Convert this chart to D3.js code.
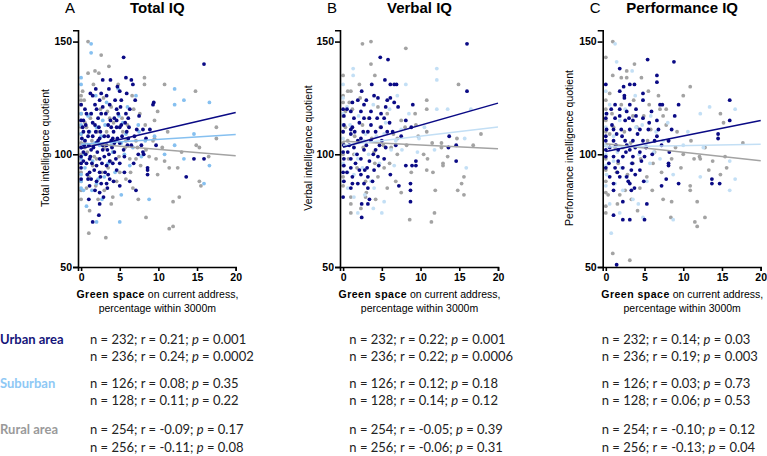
<!DOCTYPE html>
<html><head><meta charset="utf-8">
<script src="https://cdn.jsdelivr.net/npm/d3@7"></script>
<style>body{margin:0;background:#fff}svg{display:block}</style>
</head><body>
<svg id="c" width="767" height="456"></svg>
<script>
// ---------- DATA ----------
const panelLetters = ["A", "B", "C"];
const panelTitles = ["Total IQ", "Verbal IQ", "Performance IQ"];
const yTitles = ["Total intelligence quotient", "Verbal intelligence quotient", "Performance intelligence quotient"];
const xTicks = [0, 5, 10, 15, 20];
const yTicks = [50, 100, 150];
const groupNames = ["Urban area", "Suburban", "Rural area"];

// points [green space %, IQ]
const totalUrban = [[5.5,143],[15.9,140],[5.8,134],[6.5,133],[6.7,131],[2.8,133],[3.8,133],[4.7,130],[3.6,129],[1.2,127],[1.5,126],[2.6,127],[5.0,128],[5.9,127],[7.0,124],[9.4,123],[9.3,122],[5.2,124],[0,122],[1.8,122],[2.8,121],[3.7,122],[2,120],[4.6,120],[6.3,120],[0.7,118],[1.3,118],[2.6,118],[4.3,116],[6.1,116],[0.3,115],[1.5,114],[3.5,113],[4.6,112],[5,112],[8,111],[8.9,111],[5.9,110],[0.3,110],[0.9,108],[2.4,107],[4.1,107],[6.1,107],[0.5,106],[2,105],[3.3,104],[5,105],[0.3,101],[1.3,102],[2.8,102],[4.3,101],[1.1,98],[2.4,98],[3.7,97],[0.7,96],[2,95],[3.3,95],[5,96],[8,101],[8.1,100],[8.6,94],[8.6,93],[14.6,98],[15.9,98],[13.6,90],[0,94],[1.1,92],[2.4,92],[3.5,91],[0,89],[0.9,89],[1.3,89],[2,88],[3.3,87],[3.4,85],[5,86],[7.1,84],[2.4,83],[2.9,81],[1,80],[2.4,78],[2.3,73],[1.5,70],[8.6,91],[0.2,112],[0.4,104],[0.6,100],[1,110],[1.5,108],[1.8,113],[2.2,116],[2.5,110],[2.8,104],[3,99],[3.2,118],[3.5,108],[3.8,115],[4,103],[4.2,110],[4.5,98],[4.8,118],[5.2,113],[5.5,102],[5.8,118],[6.2,112],[6.5,104],[7.2,111],[7.5,117],[1.2,99],[1.7,93],[2.1,101],[2.6,87],[3.1,92],[3.6,100],[4.1,96],[0.8,91],[0.3,97],[1.6,103],[2.4,124],[3.3,126],[4.4,124],[5.1,121],[0.5,120],[1.9,129],[2.2,106],[3.9,106],[4.7,107],[0.1,107],[6.8,96],[5.6,99],[7.8,104],
  [0,115],[0,103],[0,99],[0,96],[0.6,113],[1,104],[1.4,96],[1.9,110],[2.3,112],[2.7,96],[3,108],[3.4,102],[3.9,112],[4.3,105],[4.6,115],[5.3,108],[5.7,114],[6,104],[6.9,108],[7.4,100],[8.4,107],[9.7,104],[1.1,86],[1.8,84],[2.5,90],[3.7,89],[4.2,88],[4.6,93],[5.6,92],[6.3,88]];
const totalSuburban = [[1.3,149],[1.3,145],[0,134],[0,131],[4.8,129],[7.1,126],[12.1,129],[13.3,124],[12.1,122],[16.6,123],[0,118],[2,112],[7.5,110],[8.3,106],[7.4,113],[14.6,109],[12.1,104],[13.3,98],[16.6,95],[15.9,87],[6.3,95],[5.2,82],[8.8,80],[0.7,77],[2,70],[5,70],[2,87],[0,85],[0.3,84],[3.5,96],[2.4,104],[1.1,110],[4.1,101],[5.2,105],[0.5,94],[5.8,109],[2.8,115],[2.2,89],[5.4,114],[0,98],[1.3,118],[0.5,106],
  [0,113],[0,109],[0,103],[0,91],[0,88],[0.4,100],[0.9,117],[1.5,97],[1.8,105],[2.6,108],[3,90],[3.1,113],[3.9,104],[4.4,92],[4.9,117],[5.6,100],[6,121],[6.7,103],[7.8,99],[1.4,84],[2.7,80],[3.3,123],[1.9,126],[9.5,108],[10.8,100]];
const totalRural = [[0.9,150],[2.6,144],[3.6,139],[1.8,137],[2.3,136],[0.9,136],[8.2,134],[8.2,131],[10.8,131],[14.8,128],[0,126],[0,124],[9.9,119],[17.5,112],[17.5,107],[9.5,107],[8.4,102],[14.9,104],[15.3,103],[10.8,97],[9.7,98],[11.4,94],[12.5,94],[9.9,91],[15.3,88],[15.5,86],[12.7,81],[11.9,79],[8.4,72],[7.4,80],[11.9,68],[11.4,67],[1,65],[3.2,63],[1.1,75],[0,80],[3.9,78],[5.8,89],[4.6,88],[0,115],[0.7,112],[3.3,110],[4.8,131],[4.1,101],[2,98],[6.3,98],[7.1,106],[5.8,106],[7.6,118],[1.5,95],[3.5,94],[0.7,85],[2.2,80],[3.9,121],[0.5,103],[5,92],[3.7,116],[5.4,110],[6.7,85],[7.1,98],[9.3,106],[0,122],[0,109],
  [0,118],[0,112],[0,105],[0,100],[0,96],[0,92],[0,88],[0,84],[0.2,128],[0.5,114],[0.8,101],[1.2,116],[1.4,106],[1.7,99],[2.1,110],[2.5,120],[2.7,92],[3,103],[3.4,119],[3.8,97],[4.2,114],[4.5,106],[4.9,99],[5.3,116],[5.7,103],[6,113],[6.4,92],[6.8,120],[7.3,103],[7.7,95],[8.3,113],[8.8,99],[1,90],[1.9,86],[3,84],[4.1,81],[0.4,124],[1.6,131],[2.9,125],[6.6,126],[9.5,115],[10.5,103],[11.2,110],[13,101],[16.5,99]];

const verbalUrban = [[16,149],[4.8,143],[5.8,142],[5.4,133],[3.7,131],[6.1,131],[6.6,131],[6.9,131],[16,128],[2.4,128],[1.2,123],[1.9,124],[2.7,122],[4.5,125],[5.7,124],[6.1,125],[6.6,123],[9,122],[0,120],[1,119],[2.3,119],[3.6,119],[4.9,118],[7.1,121],[0.1,117],[1.4,116],[2.7,116],[4.4,116],[5.3,116],[8.1,115],[0.1,113],[1.2,112],[3.2,110],[5.7,110],[6.4,110],[8.8,112],[1,109],[2.3,107],[3.6,106],[4.7,104],[0.1,104],[1.4,103],[2.7,102],[13.7,108],[13.6,103],[14.6,104],[0.1,98],[1,98],[2.3,98],[3.4,97],[4.5,99],[5.3,98],[9.4,97],[8.9,95],[9.4,95],[8.1,95],[14.6,97],[0.1,95],[1,94],[2.1,93],[3.1,94],[4,93],[6.1,91],[0,92],[1.2,90],[2.3,91],[3.2,90],[0.1,88],[1.2,87],[1.9,87],[2.7,87],[3.2,85],[7.2,86],[8.7,87],[8.7,84],[1,85],[0,81],[8.7,79],[2.4,78],[3.2,78],[3.4,80],[2.4,72],[1,111],[1.9,106],[3.6,113],[0.6,101],[4.2,102],[4.9,112],
  [0,110],[0,101],[0.5,120],[0.8,104],[1.5,110],[1.8,100],[2.1,114],[2.6,110],[3,104],[3.4,116],[3.9,100],[4.2,110],[4.6,95],[5,106],[5.5,103],[6,114],[6.8,104],[7.5,108],[1.6,96],[2.8,93],[3.8,88],[0.5,92],[5.5,121],[4,126],[3,124]];
const verbalSuburban = [[1.3,138],[1.3,135],[0,131],[12.1,138],[12.1,133],[8.1,131],[7.0,126],[12.1,120],[13.5,120],[16.5,120],[0,113],[7.5,111],[9.8,107],[15.7,107],[15.9,94],[5,74],[5.3,79],[1.9,74],[11.8,102],[9.6,101],[0.6,92],[4,85],[1.9,98],[6.2,102],[5.3,109],[2.7,106],[0.6,85],[3.6,88],[6.6,95],[1.4,81],
  [0,125],[0,118],[0,107],[0,101],[0,96],[0,88],[0.5,121],[0.9,113],[1.6,100],[2,117],[2.5,94],[2.9,109],[3.3,100],[3.9,122],[4.3,108],[4.7,96],[5.5,114],[6,120],[6.8,106],[7.6,102],[8.5,118],[1.4,91],[2.8,82],[3.9,76],[10.5,112]];
const verbalRural = [[2.5,149],[3.6,150],[8.1,147],[3.6,140],[0,135],[4.1,135],[2.1,131],[0.6,128],[1,128],[0,123],[0.8,123],[14.9,131],[10.8,124],[10.8,120],[9.3,118],[9.4,113],[10.8,110],[12.7,105],[12.7,103],[14.7,107],[16.8,104],[17.8,109],[10.9,98],[12.9,96],[12.9,95],[10.8,93],[11.6,92],[15.6,90],[15.3,87],[15.6,82],[14.8,84],[11.9,84],[11.8,74],[8.6,71],[11.4,70],[7.5,83],[1,78],[1,81],[2.3,76],[0,110],[0.6,106],[1.4,100],[4,101],[5.3,94],[4.5,90],[6.2,103],[2.5,113],[8,112],[7,107],[2.9,81],[5.7,85],[0.3,119],
  [0,126],[0,117],[0,105],[0,100],[0,95],[0,90],[0,86],[0.3,112],[0.7,98],[1.2,120],[1.5,108],[1.8,94],[2.2,125],[2.6,103],[2.9,88],[3.3,116],[3.7,107],[4.1,96],[4.5,121],[4.8,112],[5.2,104],[5.7,118],[6,96],[6.5,109],[7,100],[7.5,115],[8.2,104],[8.8,92],[1,74],[3,83],[4.2,80],[9.7,108],[10.4,100],[11.5,105],[13.5,99],[6.8,88]];

const perfUrban = [[5.4,142],[8.8,141],[1.8,138],[6.6,135],[6.6,132],[0,131],[2.3,130],[3.1,131],[3.7,131],[1.8,128],[2.4,126],[4.8,127],[1.2,122],[3.1,122],[4.8,124],[7,122],[7.3,122],[9.4,122],[16,124],[0.7,120],[1.8,120],[2.7,119],[3.9,120],[5.9,119],[8.9,117],[0.1,118],[1.2,116],[2.5,115],[3.5,115],[4.8,116],[6.6,115],[16,115],[0.1,111],[1,111],[2,111],[3.1,111],[4.4,111],[5.5,111],[6.8,111],[8.5,111],[14.5,109],[14.5,107],[0,106],[1,106],[2.5,106],[3.5,106],[4.8,106],[6.3,106],[8.1,106],[0.5,103],[1.6,102],[3.1,102],[4.4,101],[0,99],[1,99],[2.2,99],[3.5,99],[5,99],[8.1,95],[8.1,96],[0,94],[1.2,94],[2.2,94],[3.3,93],[4.4,93],[0.5,90],[1.8,90],[2.7,90],[3.8,91],[13.7,89],[13.7,87],[14.7,87],[1,87],[3.1,87],[7.2,86],[7.8,89],[9.4,87],[1,84],[3.3,84],[2.2,79],[1,73],[2.2,71],[3.1,71],[5,71],[1.4,51],[5.3,78],[1.8,117],[3.9,117],[1.4,109],[2.7,104],
  [0,116],[0,108],[0,102],[0.4,96],[0.8,113],[1.3,104],[1.6,97],[2.1,108],[2.6,101],[3,116],[3.4,96],[3.8,103],[4.1,109],[4.6,97],[5.2,103],[5.6,114],[6,100],[6.6,108],[7.2,104],[8.2,101],[1.5,92],[2.9,88],[3.7,85],[4.9,88],[2.4,125]];
const perfSuburban = [[1.2,149],[1.4,141],[0,128],[4.8,124],[3.4,137],[12.2,118],[13.4,121],[16.7,120],[12.6,103],[12.2,90],[16,97],[16.7,89],[16,84],[8.7,91],[4.8,72],[0.7,65],[1.8,74],[0.5,78],[2.2,84],[5.7,96],[6.2,101],[7.4,106],[0.1,91],[4.2,78],[8.7,71],[3.9,112],[1,97],[10,104],[1.8,115],[5.3,88],
  [0,118],[0,112],[0,104],[0,100],[0,95],[0,86],[0.5,122],[1,108],[1.5,101],[2,94],[2.5,120],[2.9,104],[3.3,96],[3.8,126],[4.3,100],[4.7,113],[5.2,104],[5.8,117],[6.5,110],[7,98],[8,114],[1.2,87],[2.6,90],[3.5,80],[10.6,110]];
const perfRural = [[0.9,150],[0,143],[3.7,140],[0.9,135],[2.7,137],[2,134],[2.7,134],[4.6,134],[5.5,128],[10.9,130],[10,126],[0,124],[7,120],[7.8,120],[0,120],[14.8,118],[15.2,114],[17.7,105],[12.1,99],[11.4,98],[12.2,98],[13.3,93],[9.7,94],[15.4,99],[15.6,94],[14.8,91],[10.9,86],[10.9,84],[8.5,79],[7.4,80],[11.8,79],[11.5,70],[11.8,68],[12.8,72],[8.4,72],[0.9,56],[3.1,53],[0,74],[0,77],[0.3,82],[1.8,82],[2.5,84],[5.3,90],[6.1,96],[3.5,96],[2.2,103],[1,112],[3.5,117],[5.6,122],[7.4,117],[8.1,106],[9.2,110],[1.4,92],[4.4,85],[0.5,109],
  [0,115],[0,110],[0,104],[0,98],[0,93],[0,88],[0,83],[0.5,127],[0.8,118],[1.2,103],[1.6,96],[2,122],[2.4,110],[2.8,91],[3.2,105],[3.6,124],[4,112],[4.5,98],[4.9,117],[5.4,106],[5.8,111],[6.3,101],[6.8,126],[7.2,92],[7.8,113],[8.5,98],[9,103],[1.5,78],[3.3,80],[4.1,75],[10,100],[11,106],[12.8,103],[13.8,97],[6,84]];

// regression lines: IQ at x=0 and at x=20  [urban, suburban, rural]
const totalFitStart = [102.6, 104.5, 105.0], totalFitEnd = [118.5, 108.8, 99.4];
const verbalFitStart = [103.1, 104.0, 105.8], verbalFitEnd = [122.7, 112.1, 102.5];
const perfFitStart = [101.2, 103.2, 104.7], perfFitEnd = [115.0, 104.4, 97.1];

// statistics (two rows per group)
const statN = [232, 236, 126, 128, 254, 256];
const totalR = ["0.21", "0.24", "0.08", "0.11", "-0.09", "-0.11"];
const totalP = ["0.001", "0.0002", "0.35", "0.22", "0.17", "0.08"];
const verbalR = ["0.22", "0.22", "0.12", "0.14", "-0.05", "-0.06"];
const verbalP = ["0.001", "0.0006", "0.18", "0.12", "0.39", "0.31"];
const perfR = ["0.14", "0.19", "0.03", "0.06", "-0.10", "-0.13"];
const perfP = ["0.03", "0.003", "0.73", "0.53", "0.12", "0.04"];

// ---------- DRAW ----------
const svg = d3.select("#c");
const FONT = "'Liberation Sans', Arial, sans-serif";
const urbanCol = "#0a0a85";
const subColA = "#86c0f0", subColBC = "#c3dff5";
const ruralCol = "#a3a3a3";

const panels = [
  {pts:[totalUrban,totalSuburban,totalRural], fs:totalFitStart, fe:totalFitEnd, left:78, x20:235.7, sub:subColA, xt:45.5},
  {pts:[verbalUrban,verbalSuburban,verbalRural], fs:verbalFitStart, fe:verbalFitEnd, left:340, x20:498, sub:subColBC, xt:308},
  {pts:[perfUrban,perfSuburban,perfRural], fs:perfFitStart, fe:perfFitEnd, left:602.7, x20:760.7, sub:subColBC, xt:569.5}
];

const y = d3.scaleLinear().domain([50, 155]).range([267, 30.3]);

panels.forEach((p, i) => {
  const g = svg.append("g");
  const x = d3.scaleLinear().domain([-0.4, 20]).range([p.left, p.x20]);
  const cols = [urbanCol, p.sub, ruralCol];
  // dots: rural, suburban, urban (urban on top)
  [2, 1, 0].forEach(k => {
    g.append("g").selectAll("circle").data(p.pts[k]).join("circle")
      .attr("cx", d => x(d[0])).attr("cy", d => y(d[1])).attr("r", 1.9)
      .attr("fill", cols[k]);
  });
  // fit lines
  [2, 1, 0].forEach(k => {
    g.append("line")
      .attr("x1", x(0)).attr("y1", y(p.fs[k]))
      .attr("x2", x(20)).attr("y2", y(p.fe[k]))
      .attr("stroke", cols[k]).attr("stroke-width", 1.5);
  });
  // axes
  const xa = g.append("g").attr("transform", "translate(0,267)")
    .call(d3.axisBottom(x).tickValues(xTicks).tickSizeOuter(0).tickSize(4).tickPadding(3));
  const ya = g.append("g").attr("transform", `translate(${p.left},0)`)
    .call(d3.axisLeft(y).tickValues(yTicks).tickSizeOuter(0).tickSize(5).tickPadding(1));
  [xa, ya].forEach(a => {
    a.select(".domain").attr("stroke", "#000").attr("stroke-width", 1.6);
    a.selectAll(".tick line").attr("stroke", "#000").attr("stroke-width", 1.6);
    a.selectAll(".tick text").attr("fill", "#000").attr("font-family", FONT)
      .attr("font-weight", "bold").attr("font-size", 10.5);
  });
  // titles
  g.append("text").attr("x", p.left - 13).attr("y", 13).attr("text-anchor", "start")
    .attr("font-family", FONT).attr("font-size", 15).text(panelLetters[i]);
  const cx = (p.left + p.x20) / 2 + 0.5;
  g.append("text").attr("x", cx).attr("y", 13).attr("text-anchor", "middle")
    .attr("font-family", FONT).attr("font-size", 15).attr("font-weight", "bold").text(panelTitles[i]);
  // y title
  g.append("text").attr("transform", `translate(${p.xt + 3.5},148) rotate(-90)`)
    .attr("text-anchor", "middle").attr("font-family", FONT).attr("font-size", 10.5)
    .text(yTitles[i]);
  // x title
  const t1 = g.append("text").attr("x", cx).attr("y", 298).attr("text-anchor", "middle")
    .attr("font-family", FONT).attr("font-size", 10.5);
  t1.append("tspan").attr("font-weight", "bold").attr("letter-spacing", 0.5).text("Green space");
  t1.append("tspan").text(" on current address,");
  g.append("text").attr("x", cx).attr("y", 312).attr("text-anchor", "middle")
    .attr("font-family", FONT).attr("font-size", 10.5).text("percentage within 3000m");
});

// statistics block
const SFONT = "Lato, 'Open Sans', sans-serif";
const rowY = [344, 361, 388, 405, 434, 452];
const groupCols = ["#15157a", "#8ec8f5", "#9a9a9a"];
groupNames.forEach((n, k) => {
  svg.append("text").attr("x", 0).attr("y", rowY[2 * k]).attr("font-family", SFONT)
    .attr("font-size", 13).attr("font-weight", "bold").attr("fill", groupCols[k]).text(n);
});
const statCols = [{x:90, r:totalR, p:totalP}, {x:349.3, r:verbalR, p:verbalP}, {x:601.7, r:perfR, p:perfP}];
statCols.forEach(c => {
  statN.forEach((nv, j) => {
    const t = svg.append("text").attr("x", c.x).attr("y", rowY[j]).attr("font-family", SFONT)
      .attr("font-size", 13).attr("fill", "#222");
    t.append("tspan").text(`n = ${nv}; r = ${c.r[j]}; `);
    t.append("tspan").attr("font-style", "italic").text("p");
    t.append("tspan").text(` = ${c.p[j]}`);
  });
});
</script>
</body></html>
